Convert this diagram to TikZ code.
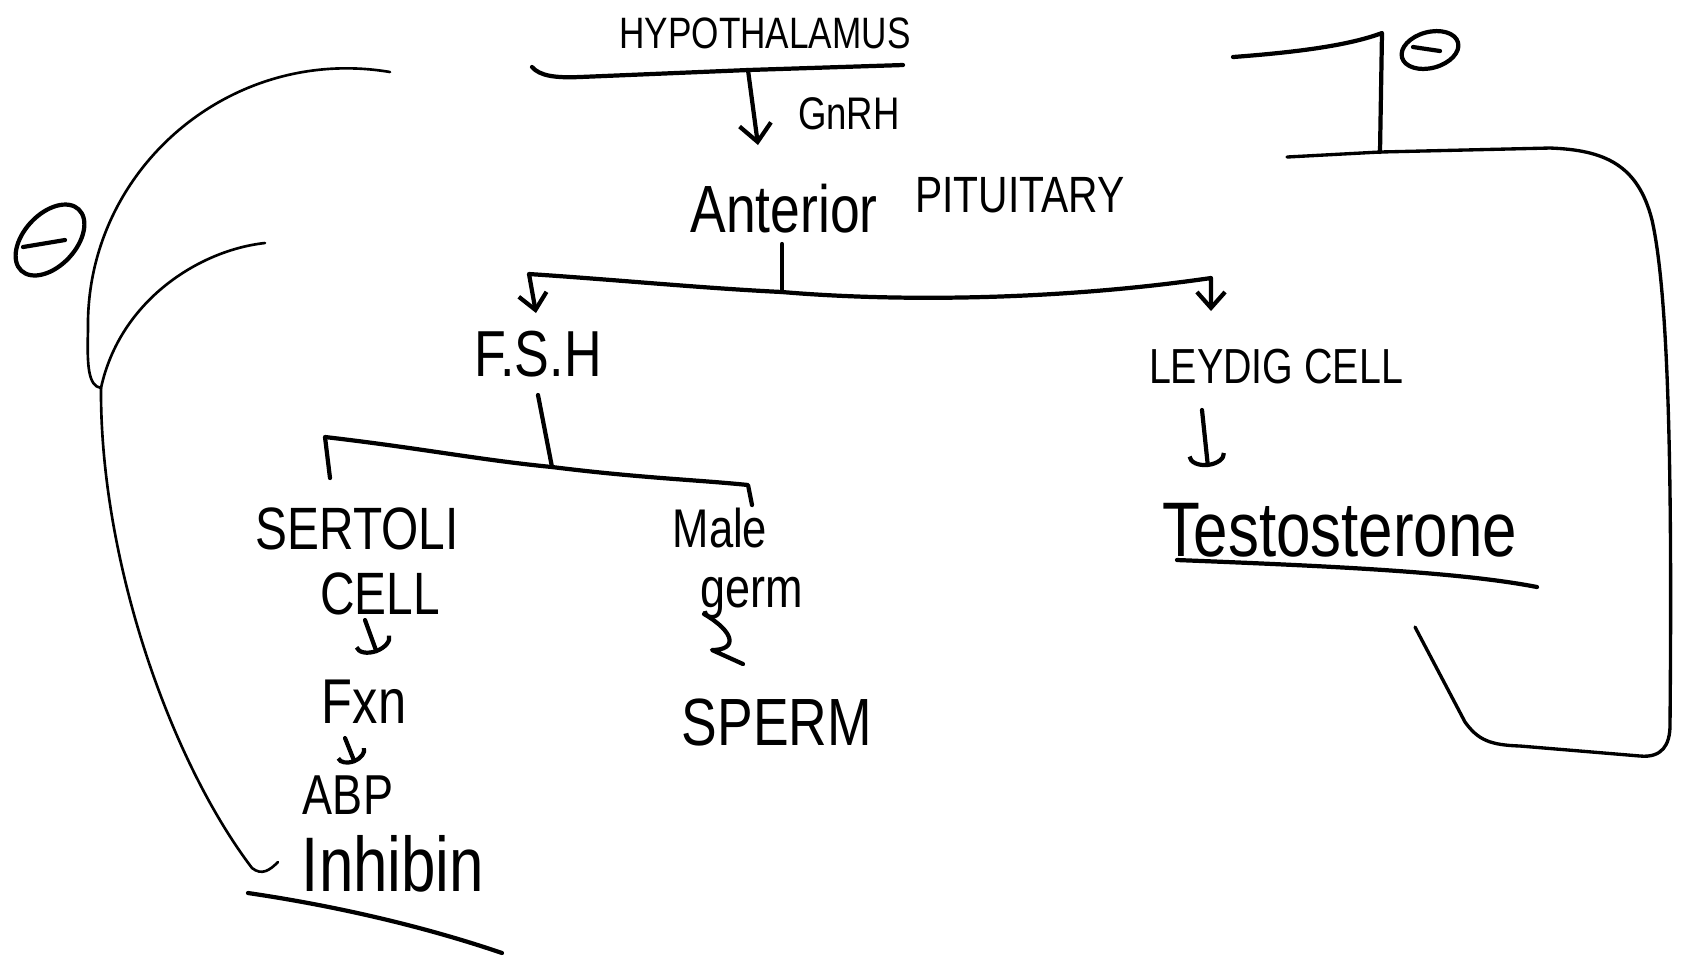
\documentclass[tikz,border=0pt]{standalone}
\usepackage{fontspec}
\newfontfamily\hand[FakeStretch=0.8]{Liberation Sans}
\usetikzlibrary{arrows.meta}
\newcommand{\hsz}[1]{\hand\fontsize{#1}{#1}\selectfont}
\tikzset{
  lbl/.style={inner sep=0pt},
  pen/.style={line width=1.2pt, line cap=round, line join=round},
  thinpen/.style={line width=0.75pt, line cap=round},
  barb/.style={pen, -{Straight Barb[length=5pt,width=9pt]}},
  cup/.style={pen, -{Arc Barb[length=3.5pt,width=11pt]}},
}

\begin{document}
\begin{tikzpicture}[x=0.01cm,y=-0.01cm]
  \useasboundingbox (0,0) rectangle (1681,959);
  \fill[white] (0,0) rectangle (1681,959);

  % labels
  \node[lbl,font=\hsz{12.5}] (hypo) at (765,33) {HYPOTHALAMUS};
  \node[lbl,font=\hsz{13}] (gnrh) at (849,114) {GnRH};
  \node[lbl,font=\hsz{19}] (ant) at (784,209) {Anterior};
  \node[lbl,font=\hsz{14.5}] (pit) at (1020,195) {PITUITARY};
  \node[lbl,font=\hsz{18.5}] (fsh) at (538,354) {F.S.H};
  \node[lbl,font=\hsz{14}] (leydig) at (1276,367) {LEYDIG CELL};
  \node[lbl,font=\hsz{17}] (sert) at (357,529) {SERTOLI};
  \node[lbl,font=\hsz{17}] (cell) at (380,594) {CELL};
  \node[lbl,font=\hsz{18}] (fxn) at (364,702) {Fxn};
  \node[lbl,font=\hsz{16}] (abp) at (348,795) {ABP};
  \node[lbl,font=\hsz{22}] (inh) at (393,864) {Inhibin};
  \node[lbl,font=\hsz{15.5}] (male) at (720,528) {Male};
  \node[lbl,font=\hsz{16}] (germ) at (752,598) {germ};
  \node[lbl,font=\hsz{19}] (sperm) at (777,722) {SPERM};
  \node[lbl,font=\hsz{22}] (testo) at (1340,530) {Testosterone};

  % hypothalamus -> anterior pituitary
  \coordinate (hl) at (532,67);
  \coordinate (hm) at (748,70);
  \coordinate (hr) at (903,65);
  \coordinate (gtip) at (758,145);
  \draw[pen] (hl) .. controls (540,76) and (555,78) .. (580,77) -- (hm) -- (hr);
  \draw[barb] (hm) -- (gtip);

  % anterior pituitary -> fsh / leydig
  \coordinate (atop) at (782,244);
  \coordinate (amid) at (782,292);
  \coordinate (abl) at (529,274);
  \coordinate (abr) at (1211,278);
  \coordinate (fshtip) at (536,313);
  \coordinate (leytip) at (1211,311);
  \draw[pen] (atop) -- (amid);
  \draw[pen, {Straight Barb[length=4.5pt,width=8pt]}-{Straight Barb[length=4.5pt,width=8pt]}]
    (fshtip) -- (abl) .. controls (620,280) and (700,288) .. (amid)
    .. controls (900,302) and (1060,300) .. (abr) -- (leytip);

  % fsh -> sertoli / male germ
  \coordinate (ftop) at (538,395);
  \coordinate (fmid) at (552,467);
  \coordinate (fbl) at (325,437);
  \coordinate (fbr) at (748,485);
  \draw[pen] (ftop) -- (fmid);
  \draw[pen] (330,478) -- (fbl) .. controls (420,448) and (480,460) .. (fmid)
    .. controls (640,478) and (700,480) .. (fbr) -- (752,505);

  % sertoli chain
  \draw[cup] (365,620) -- (377,653);
  \draw[pen, -{Arc Barb[length=3pt,width=9pt]}] (345,738) -- (355,763);

  % male germ -> sperm
  \draw[pen] (704,614) .. controls (735,632) and (738,650) .. (712,650) -- (743,664);

  % leydig -> testosterone
  \draw[cup] (1202,410) -- (1208,467);
  \draw[pen] (1177,560) .. controls (1330,566) and (1460,572) .. (1537,587);

  % inhibin underline
  \draw[pen] (248,893) .. controls (330,905) and (420,925) .. (502,953);

  % inhibin feedback (left)
  \coordinate (lv) at (101,388);
  \draw[thinpen] (390,72) .. controls (230,45) and (85,170) .. (88,330)
    .. controls (87,365) and (88,386) .. (lv);
  \draw[thinpen] (265,243) .. controls (200,250) and (120,300) .. (lv);
  \draw[thinpen] (lv) .. controls (100,560) and (170,760) .. (252,868)
    .. controls (262,876) and (270,870) .. (278,862);
  \draw[pen] (50,240) ellipse [x radius=42, y radius=26, rotate=47];
  \draw[pen] (23,247) -- (65,240);

  % testosterone feedback (right)
  \coordinate (tbar) at (1380,152);
  \draw[line width=0.95pt, line cap=round] (1415,627) -- (1465,722)
    .. controls (1478,740) and (1490,745) .. (1520,746) -- (1640,756)
    .. controls (1662,758) and (1670,745) .. (1670,725)
    .. controls (1672,500) and (1670,300) .. (1652,220)
    .. controls (1638,165) and (1605,150) .. (1550,148) -- (tbar) -- (1287,157);
  \draw[pen] (1233,57) .. controls (1300,52) and (1350,45) .. (1382,33) -- (tbar);
  \draw[pen] (1430,50) ellipse [x radius=29, y radius=18, rotate=15];
  \draw[pen] (1413,47) -- (1440,51);
\end{tikzpicture}
\end{document}
